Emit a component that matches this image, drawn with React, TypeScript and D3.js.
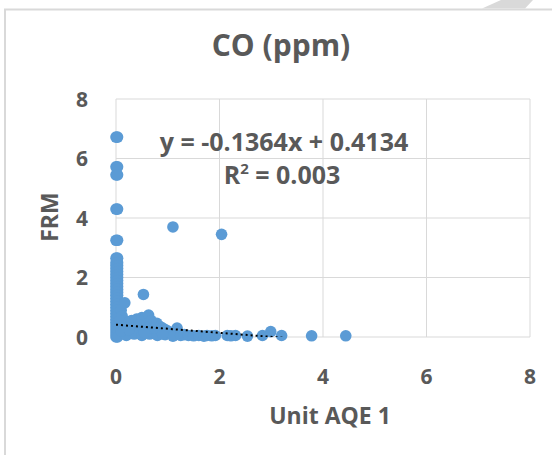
import { useMemo } from "react";
import * as d3 from "d3";

// FRM readings where Unit AQE 1 reads (close to) zero
const zeroColumnY = [
  6.72, 5.72, 5.45, 4.3, 3.25, 2.65, 2.5, 2.4, 2.3, 2.2, 2.1, 2.0, 1.9, 1.8, 1.7, 1.6,
  1.5, 1.4, 1.3, 1.2, 1.1, 1.0, 0.9, 0.8, 0.7, 0.6, 0.5, 0.4, 0.3, 0.2, 0.1, 0.0,
];
const zeroColumnX = [0, 0.03];

// main low cluster [x, y]
const clusterPoints: [number, number][] = [
  [0.1, 0.9], [0.12, 0.7], [0.08, 0.55], [0.17, 1.15], [0.2, 0.45], [0.25, 0.5],
  [0.3, 0.55], [0.35, 0.5], [0.4, 0.6], [0.45, 0.55], [0.5, 0.65], [0.55, 0.6],
  [0.53, 1.43], [0.6, 0.5], [0.63, 0.74], [0.68, 0.55], [0.72, 0.45], [0.79, 0.46],
  [0.85, 0.35], [0.9, 0.3], [0.95, 0.25], [1.0, 0.2], [1.05, 0.15], [1.18, 0.3],
  [1.12, 0.1], [0.15, 0.3], [0.2, 0.2], [0.3, 0.3], [0.4, 0.25], [0.5, 0.35],
  [0.6, 0.3], [0.7, 0.2], [0.8, 0.15], [0.2, 0.05], [0.35, 0.1], [0.5, 0.05],
  [0.65, 0.1], [0.8, 0.05], [0.95, 0.08], [1.1, 0.03], [0.1, 0.2], [0.45, 0.4],
  [0.25, 0.25], [0.55, 0.15], [0.75, 0.3], [0.9, 0.1],
];

// sparse tail along the x axis
const tailPoints: [number, number][] = [
  [1.25, 0.05], [1.32, 0.08], [1.4, 0.05], [1.5, 0.04], [1.6, 0.05], [1.7, 0.03],
  [1.76, 0.05], [1.85, 0.04], [1.92, 0.05], [2.15, 0.05], [2.22, 0.04], [2.31, 0.05],
  [2.54, 0.03], [2.83, 0.05], [2.99, 0.18], [3.2, 0.05], [3.78, 0.04], [4.44, 0.04],
];

const outlierPoints: [number, number][] = [
  [1.1, 3.7], [2.04, 3.45],
];

const slope = -0.1364;
const intercept = 0.4134;
const xTicks = [0, 2, 4, 6, 8];
const yTicks = [0, 2, 4, 6, 8];

const font = "'Open Sans', sans-serif";
const textColor = "#595959";

const App = () => {
  const width = 552;
  const height = 455;
  const margin = { left: 116, right: 22, top: 99, bottom: 118 };

  const x = d3.scaleLinear().domain([0, 8]).range([margin.left, width - margin.right]);
  const y = d3.scaleLinear().domain([0, 8]).range([height - margin.bottom, margin.top]);

  const points = useMemo(() => {
    const pts: [number, number][] = [];
    zeroColumnX.forEach((cx) => zeroColumnY.forEach((cy) => pts.push([cx, cy])));
    return pts.concat(clusterPoints, tailPoints, outlierPoints);
  }, []);

  const maxX = d3.max(points, (d) => d[0]) ?? 0;
  const trend = d3
    .line<number>()
    .x((d) => x(d))
    .y((d) => y(slope * d + intercept));

  return (
    <svg
      width={width}
      height={height}
      style={{ position: "absolute", left: 0, top: 0, background: "#fff" }}
    >
      <defs>
        <clipPath id="plot">
          <rect x={margin.left} y={margin.top} width={x(8) - x(0)} height={y(0) - y(8)} />
        </clipPath>
      </defs>
      {/* frame */}
      <path d={`M5,${height} V9.5 H${width}`} fill="none" stroke="#d9d9d9" strokeWidth={2} />
      <polygon points="482,8.5 525,8.5 533,0 501,0" fill="#d9d9d9" />

      {/* grid */}
      {xTicks.map((t) => (
        <line key={"gx" + t} x1={x(t)} x2={x(t)} y1={y(0)} y2={y(8)} stroke="#d9d9d9" strokeWidth={1} />
      ))}
      {yTicks.map((t) => (
        <line key={"gy" + t} x1={x(0)} x2={x(8)} y1={y(t)} y2={y(t)} stroke="#d9d9d9" strokeWidth={1} />
      ))}

      {/* points */}
      <g fill="#5B9BD5">
        {points.map((d, i) => (
          <circle key={i} cx={x(d[0])} cy={y(d[1])} r={5.8} />
        ))}
      </g>

      {/* trendline */}
      <path
        d={trend([0, maxX]) ?? ""}
        clipPath="url(#plot)"
        fill="none"
        stroke="#000"
        strokeWidth={2}
        strokeDasharray="2,3"
      />

      {/* tick labels */}
      <g fontFamily={font} fontWeight="bold" fontSize={21} fill={textColor}>
        {yTicks.map((t) => (
          <text key={"yl" + t} x={88} y={y(t)} dy="0.36em" textAnchor="end">
            {t}
          </text>
        ))}
        {xTicks.map((t) => (
          <text key={"xl" + t} x={x(t)} y={384} textAnchor="middle">
            {t}
          </text>
        ))}
      </g>

      {/* titles */}
      <text x={281} y={56} textAnchor="middle" fontFamily={font} fontWeight="bold" fontSize={30} fill={textColor}>
        CO (ppm)
      </text>
      <text x={330} y={424} textAnchor="middle" fontFamily={font} fontWeight="bold" fontSize={23} fill={textColor}>
        Unit AQE 1
      </text>
      <text
        transform={`translate(58,217) rotate(-90)`}
        textAnchor="middle"
        fontFamily={font}
        fontWeight="bold"
        fontSize={23}
        fill={textColor}
      >
        FRM
      </text>

      {/* equation */}
      <g fontFamily={font} fontWeight="bold" fontSize={25} fill={textColor} textAnchor="middle">
        <text x={284} y={151}>y = -0.1364x + 0.4134</text>
        <text x={282} y={184}>
          R<tspan dy={-10} fontSize={15}>2</tspan>
          <tspan dy={10}> = 0.003</tspan>
        </text>
      </g>
    </svg>
  );
};

export default App;
